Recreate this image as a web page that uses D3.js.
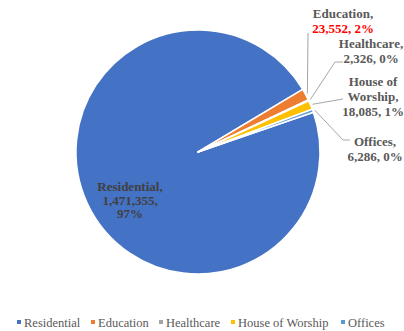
<!DOCTYPE html>
<html><head><meta charset="utf-8">
<script src="https://cdn.jsdelivr.net/npm/d3@7"></script>
<style>html,body{margin:0;padding:0;background:#fff;}svg{display:block;}
text{font-family:"Liberation Serif","Times New Roman","DejaVu Serif",serif;}</style>
</head><body>
<svg id="chart" width="404" height="331"></svg>
<script>
const categories = ["Residential", "Education", "Healthcare", "House of Worship", "Offices"];
const values = [1471355, 23552, 2326, 18085, 6286];
const colors = ["#4472C4", "#ED7D31", "#A5A5A5", "#FFC000", "#5B9BD5"];

// label text lines
const labelLines = [
  ["Residential,", "1,471,355,", "97%"],
  ["Education,", "23,552, 2%"],
  ["Healthcare,", "2,326, 0%"],
  ["House of", "Worship,", "18,085, 1%"],
  ["Offices,", "6,286, 0%"]
];
const labelPos = [[130, 191], [343, 18], [371, 48], [373, 86], [375, 146]];
const leaderEnds = [null, [[308, 33]], [[335, 62], [343, 62]], [[343, 99]], [[343, 140], [350, 140]]];

const svg = d3.select("#chart");
const cx = 198, cy = 152, r = 122;
const start = 71 * Math.PI / 180;

const pie = d3.pie().sort(null).startAngle(start).endAngle(start + 2 * Math.PI);
const arcs = pie(values);
const arc = d3.arc().innerRadius(0).outerRadius(r);
const g = svg.append("g").attr("transform", `translate(${cx},${cy})`);

g.selectAll("path.slice").data(arcs).join("path")
  .attr("class", "slice")
  .attr("d", arc)
  .attr("fill", (d, i) => colors[i])
  .attr("stroke", "#fff")
  .attr("stroke-width", 1.5)
  .attr("stroke-linejoin", "round");

// leader lines
const outer = d3.arc().innerRadius(r + 2).outerRadius(r + 2);
arcs.forEach((d, i) => {
  if (!leaderEnds[i]) return;
  const c = outer.centroid(d);
  const pts = [[cx + c[0], cy + c[1]]].concat(leaderEnds[i]);
  svg.append("path")
    .attr("d", d3.line()(pts))
    .attr("fill", "none")
    .attr("stroke", "#A6A6A6")
    .attr("stroke-width", 1);
});

// labels
labelLines.forEach((lines, i) => {
  const t = svg.append("text")
    .attr("x", labelPos[i][0]).attr("y", labelPos[i][1])
    .attr("text-anchor", "middle")
    .attr("font-weight", "bold")
    .attr("font-size", 13);
  lines.forEach((s, j) => {
    t.append("tspan")
      .attr("x", labelPos[i][0])
      .attr("dy", j === 0 ? 0 : (i === 0 ? 13.5 : 15))
      .attr("fill", i === 1 && j === 1 ? "#FF0000" : (i === 0 ? "#404040" : "#595959"))
      .text(s);
  });
});

// legend
const legendX = [17, 91, 159, 231, 341];
const lg = svg.append("g");
categories.forEach((c, i) => {
  lg.append("rect").attr("x", legendX[i]).attr("y", 320).attr("width", 4).attr("height", 4).attr("fill", colors[i]);
  lg.append("text").attr("x", legendX[i] + 7).attr("y", 327)
    .attr("font-size", 12.5).attr("fill", "#595959").text(c);
});
</script>
</body></html>
